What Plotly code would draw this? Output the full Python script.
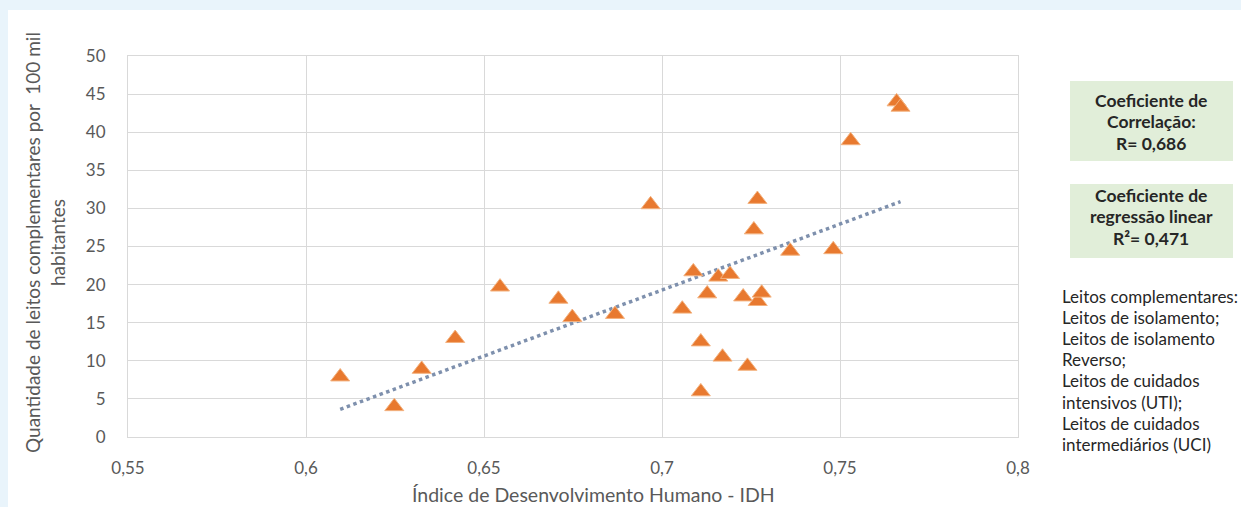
import numpy as np
import plotly.graph_objects as go

# Data
idh = [0.6096, 0.6248, 0.6325, 0.6419, 0.6545, 0.6709, 0.6748, 0.6868, 0.6968,
       0.7057, 0.7088, 0.7109, 0.7109, 0.7127, 0.7158, 0.7170, 0.7191, 0.7228,
       0.7240, 0.7258, 0.7269, 0.7268, 0.7280, 0.7360, 0.7481, 0.7530, 0.7659, 0.7670]
leitos = [7.9, 4.0, 8.9, 12.95, 19.7, 18.1, 15.7, 16.1, 30.5,
          16.8, 21.7, 12.5, 5.95, 18.8, 21.0, 10.5, 21.35, 18.4,
          9.3, 27.2, 17.8, 31.2, 18.9, 24.4, 24.6, 38.9, 44.0, 43.3]
x_ticks = [0.55, 0.6, 0.65, 0.7, 0.75, 0.8]
x_tick_labels = ["0,55", "0,6", "0,65", "0,7", "0,75", "0,8"]
y_ticks = list(range(0, 55, 5))

box1_lines = ["Coeficiente de", "Correlação:", "R= 0,686"]
box2_lines = ["Coeficiente de", "regressão linear", "R²= 0,471"]
notes = ["Leitos complementares:", "Leitos de isolamento;", "Leitos de isolamento",
         "Reverso;", "Leitos de cuidados", "intensivos (UTI);", "Leitos de cuidados",
         "intermediários (UCI)"]

W, H = 1241, 507
L, R, T, B = 128, 1018, 56, 437
FONT = "Lato"


def px(x):
    return (x - L) / (R - L)


def py(y):
    return (B - y) / (B - T)


# linear trend
slope, intercept = np.polyfit(idh, leitos, 1)
tx = np.array([min(idh), max(idh)])
ty = slope * tx + intercept

fig = go.Figure()
fig.add_trace(go.Scatter(
    x=tx, y=ty, mode="lines",
    line=dict(color="#7E90AD", width=3.5, dash="dot"),
    showlegend=False, hoverinfo="skip"))
fig.add_trace(go.Scatter(
    x=idh, y=leitos, mode="markers",
    marker=dict(symbol="triangle-up", size=16.5, color="#E8792F",
                line=dict(color="#F3B27F", width=1)),
    showlegend=False))

grid = "#D9D9D9"
tick_font = dict(family=FONT, size=17, color="#595959")
fig.update_xaxes(range=[0.55, 0.8], tickvals=x_ticks, ticktext=x_tick_labels,
                 showgrid=True, gridcolor=grid, gridwidth=1, zeroline=False,
                 showline=True, linecolor=grid, mirror=True, ticks="",
                 ticklabelstandoff=16, tickfont=tick_font)
fig.update_yaxes(range=[0, 50], tickvals=y_ticks,
                 showgrid=True, gridcolor=grid, gridwidth=1, zeroline=False,
                 showline=True, linecolor=grid, mirror=True, ticks="",
                 ticklabelstandoff=18, tickfont=tick_font)

shapes = [
    dict(type="rect", xref="paper", yref="paper", layer="below",
         x0=px(8), x1=px(W + 5), y0=py(H + 5), y1=py(10),
         fillcolor="white", line=dict(width=0)),
    dict(type="rect", xref="paper", yref="paper",
         x0=px(1070), x1=px(1233), y0=py(161), y1=py(81),
         fillcolor="#E1EED9", line=dict(width=0)),
    dict(type="rect", xref="paper", yref="paper",
         x0=px(1070), x1=px(1233), y0=py(258), y1=py(184),
         fillcolor="#E1EED9", line=dict(width=0)),
]

annotations = []
box_font = dict(family=FONT, size=17.5, color="#262626")
for i, t in enumerate(box1_lines):
    annotations.append(dict(text="<b>" + t + "</b>", xref="paper", yref="paper",
                            x=px(1151), y=py(100 + 21.5 * i), xanchor="center",
                            yanchor="middle", showarrow=False, font=box_font))
for i, t in enumerate(box2_lines):
    annotations.append(dict(text="<b>" + t + "</b>", xref="paper", yref="paper",
                            x=px(1151), y=py(195 + 21.5 * i), xanchor="center",
                            yanchor="middle", showarrow=False, font=box_font))
for i, t in enumerate(notes):
    annotations.append(dict(text=t, xref="paper", yref="paper",
                            x=px(1060), y=py(296 + 21.2 * i), xanchor="left",
                            yanchor="middle", showarrow=False,
                            font=dict(family=FONT, size=17, color="#262626")))

annotations += [
    dict(text="Quantidade de leitos complementares por  100 mil<br>habitantes",
         xref="paper", yref="paper", x=px(45), y=py(243), textangle=-90,
         xanchor="center", yanchor="middle", showarrow=False, align="center",
         font=dict(family=FONT, size=19, color="#595959")),
    dict(text="Índice de Desenvolvimento Humano - IDH", xref="paper", yref="paper",
         x=px(593), y=py(494), xanchor="center", yanchor="middle", showarrow=False,
         font=dict(family=FONT, size=19.5, color="#595959")),
]

fig.update_layout(
    width=W, height=H,
    margin=dict(l=L, r=W - R, t=T, b=H - B, pad=0),
    paper_bgcolor="#E9F4FB", plot_bgcolor="white",
    shapes=shapes, annotations=annotations,
)

fig.write_html("out.html", config={"displayModeBar": False},
               post_script="document.body.style.margin='0px';"
                           "document.body.style.overflow='hidden';")
